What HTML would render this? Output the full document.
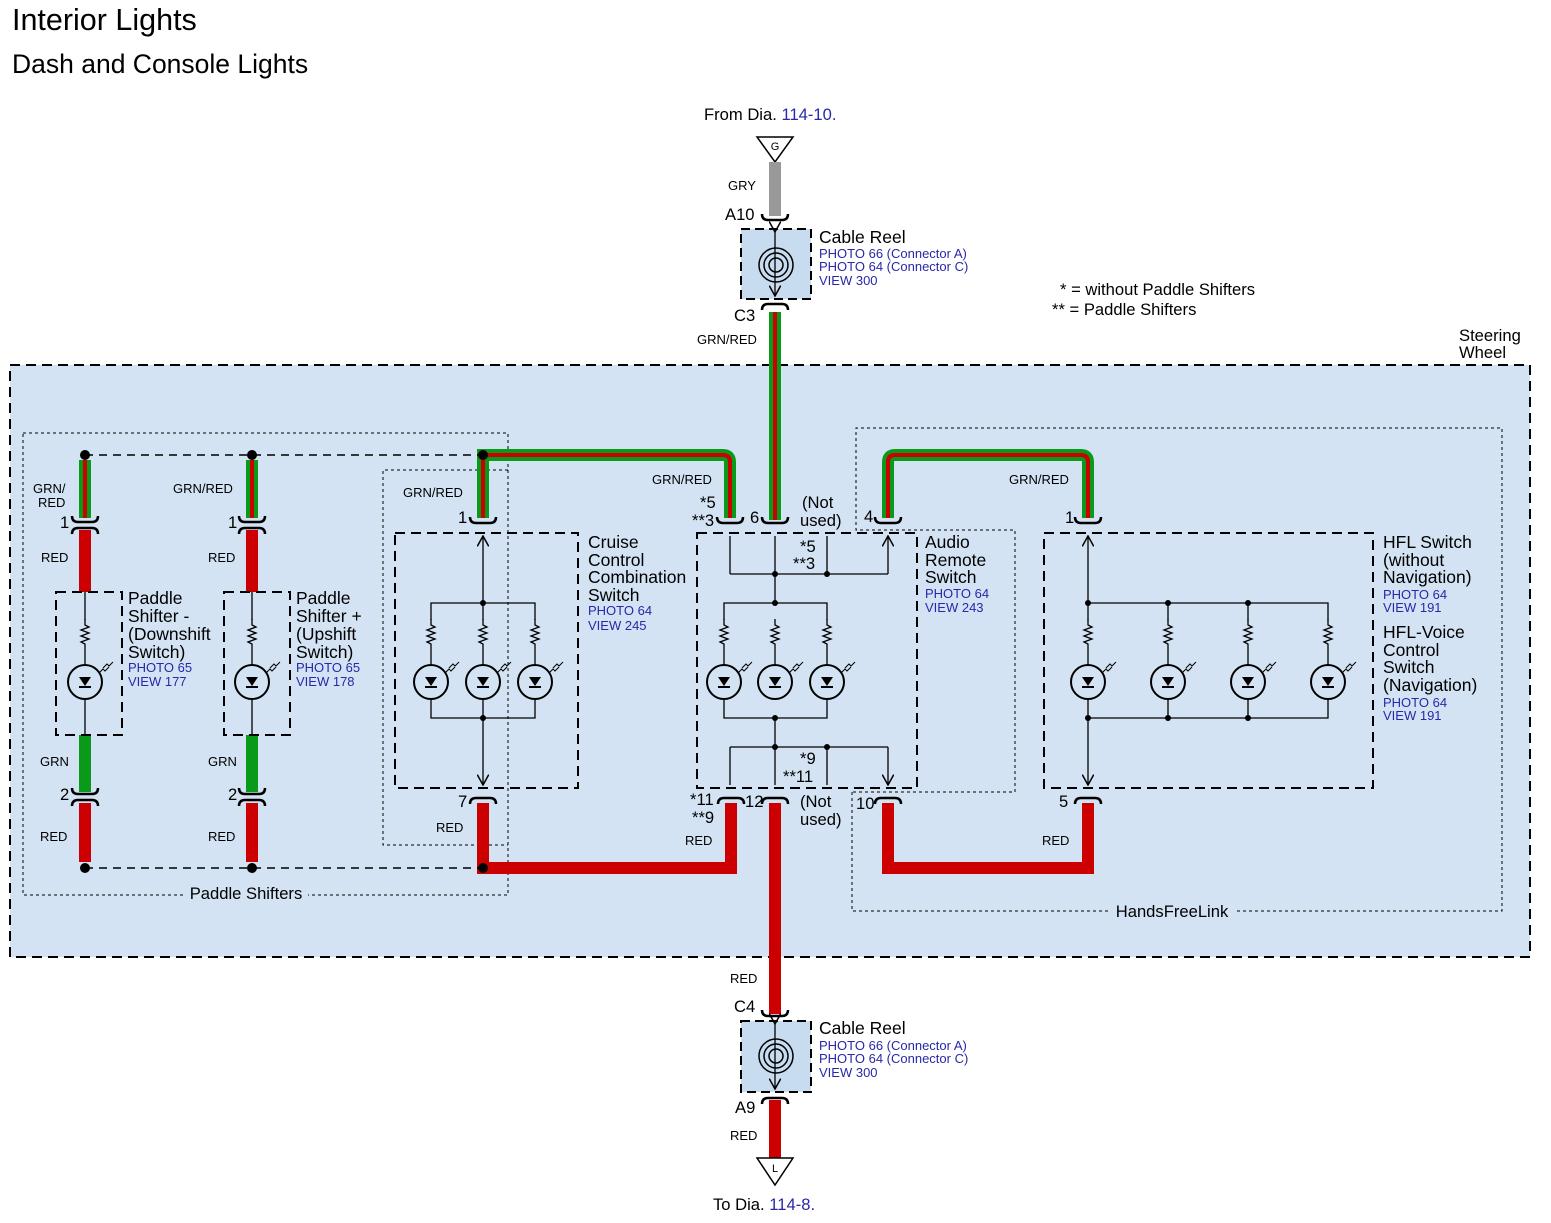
<!DOCTYPE html>
<html><head><meta charset="utf-8"><style>
body{margin:0;background:#fff}
svg{display:block;font-family:"Liberation Sans",Arial,sans-serif}
.s{font-size:13px}.p{font-size:16.6px}.n{font-size:17.5px}.b{font-size:13px;fill:#2828a8}
</style></head><body>
<svg width="1551" height="1223" viewBox="0 0 1551 1223">
<defs>
<g id="res"><path d="M0,-16 v6 l4,2 l-8,3 l8,3 l-8,3 l8,3 l-8,3 l4,2 v6" fill="none" stroke="#000" stroke-width="1.3"/></g>
<g id="led"><circle r="17" fill="none" stroke="#000" stroke-width="2"/><path d="M-6,-5 h12 l-6,9 z" fill="#000"/><path d="M-6,5 h12" stroke="#000" stroke-width="2"/><path d="M18,-14 l4,-4 l2,2 l4,-4 M14,-9 l4,-4 l2,2 l4,-4" stroke="#000" fill="none" stroke-width="1"/></g>
<g id="cu"><path d="M-13,4 q0,-6 6,-6 h14 q6,0 6,6" fill="none" stroke="#000" stroke-width="2.5"/></g>
<g id="cd"><path d="M-13,-4 q0,6 6,6 h14 q6,0 6,-6" fill="none" stroke="#000" stroke-width="2.5"/></g>
<marker id="ar" viewBox="0 0 10 10" refX="9" refY="5" markerWidth="9" markerHeight="9" orient="auto"><path d="M0,0 L9,5 L0,10" fill="none" stroke="#000" stroke-width="1.3"/></marker>
</defs>
<text x="12" y="30" font-size="30.5">Interior Lights</text>
<text x="12" y="73" font-size="26.5">Dash and Console Lights</text>
<text x="704" y="120" class="p">From  Dia. <tspan fill="#2828a8">114-10.</tspan></text>
<path d="M757,137 h36 l-18,25 z" fill="#fff" stroke="#000" stroke-width="1.5"/><text x="775" y="150" font-size="11" text-anchor="middle">G</text>
<path d="M775,162 V216" stroke="#999" stroke-width="12"/>
<text x="728" y="190" class="s">GRY</text>
<text x="725" y="220" class="p">A10</text>
<use href="#cd" x="775" y="218"/>
<rect x="741" y="229" width="70" height="70" fill="#c8dcef" stroke="#000" stroke-width="2" stroke-dasharray="9,5"/>
<path d="M775,232 V296" stroke="#000" stroke-width="1.3" marker-start="url(#ar)" marker-end="url(#ar)"/>
<circle cx="776" cy="265" r="17" fill="none" stroke="#000" stroke-width="1.5"/><circle cx="776" cy="265" r="12" fill="none" stroke="#000" stroke-width="1.5"/><circle cx="776" cy="265" r="7" fill="none" stroke="#000" stroke-width="1.5"/>
<text x="819" y="243" class="n">Cable Reel</text>
<text x="819" y="258" class="b">PHOTO 66 (Connector A)</text><text x="819" y="271" class="b">PHOTO 64 (Connector C)</text><text x="819" y="285" class="b">VIEW 300</text>
<text x="734" y="321" class="p">C3</text>
<use href="#cu" x="775" y="306"/>
<text x="697" y="344" class="s">GRN/RED</text>
<text x="1060" y="295" class="p">* = without Paddle Shifters</text>
<text x="1052" y="315" class="p">** = Paddle Shifters</text>
<text x="1459" y="341" class="p">Steering</text><text x="1459" y="358" class="p">Wheel</text>
<rect x="10" y="365" width="1520" height="592" fill="#d3e3f3" stroke="#000" stroke-width="2" stroke-dasharray="10,6"/>
<g fill="none" stroke="#000" stroke-width="1" stroke-dasharray="3,3">
<rect x="23" y="433" width="485" height="462"/>
<path d="M508,470 H383 V845 H508"/>
<path d="M852,792 V911 H1502 V428 H856 V530 H1015 V792 H852"/>
</g>
<rect x="184" y="884" width="124" height="18" fill="#d3e3f3"/>
<rect x="1110" y="902" width="124" height="18" fill="#d3e3f3"/>
<!-- wires top -->
<g fill="none">
<path d="M775,312 V520" stroke="#0a9a1a" stroke-width="12"/><path d="M775,312 V520" stroke="#c00" stroke-width="4"/>
<path d="M85,460 V518 M252,460 V518 M483,518 V455 H723 q7,0 7,7 V518 M888,518 V462 q0,-7 7,-7 H1081 q7,0 7,7 V518" stroke="#0a9a1a" stroke-width="12"/>
<path d="M85,460 V518 M252,460 V518 M483,518 V455 H723 q7,0 7,7 V518 M888,518 V462 q0,-7 7,-7 H1081 q7,0 7,7 V518" stroke="#c00" stroke-width="4"/>
<path d="M85,530 V592 M252,530 V592 M85,803 V862 M252,803 V862 M483,803 V868 H731 V803 M775,803 V1014 M888,803 V868 H1088 V803 M775,1100 V1158" stroke="#c00" stroke-width="12"/>
<path d="M85,735 V792 M252,735 V792" stroke="#0a9a1a" stroke-width="12"/>
</g>
<path d="M85,455 H483 M85,868 H483" stroke="#000" stroke-width="1.5" stroke-dasharray="8,6"/>
<g fill="#000"><circle cx="85" cy="455" r="5"/><circle cx="252" cy="455" r="5"/><circle cx="483" cy="455" r="5"/><circle cx="85" cy="868" r="5"/><circle cx="252" cy="868" r="5"/><circle cx="483" cy="868" r="5"/></g>
<g>
<use href="#cd" x="85" y="520"/><use href="#cu" x="85" y="530"/><use href="#cd" x="252" y="520"/><use href="#cu" x="252" y="530"/>
<use href="#cd" x="85" y="792"/><use href="#cu" x="85" y="802"/><use href="#cd" x="252" y="792"/><use href="#cu" x="252" y="802"/>
<use href="#cd" x="483" y="521"/><use href="#cd" x="730" y="521"/><use href="#cd" x="775" y="521"/><use href="#cd" x="888" y="521"/><use href="#cd" x="1088" y="521"/>
<use href="#cu" x="483" y="800"/><use href="#cu" x="731" y="800"/><use href="#cu" x="775" y="800"/><use href="#cu" x="888" y="800"/><use href="#cu" x="1088" y="800"/>
</g>
<!-- boxes -->
<g fill="none" stroke="#000" stroke-width="2" stroke-dasharray="10,6">
<rect x="56" y="592" width="66" height="143"/><rect x="224" y="592" width="66" height="143"/>
<rect x="395" y="533" width="183" height="255"/><rect x="697" y="533" width="220" height="255"/><rect x="1044" y="533" width="329" height="255"/>
</g>
<g fill="none" stroke="#000" stroke-width="1.3">
<path d="M85,592 V620 M85,650 V665 M85,699 V735 M252,592 V620 M252,650 V665 M252,699 V735"/>
<path d="M483,603 V536" marker-end="url(#ar)"/><path d="M483,718 V785" marker-end="url(#ar)"/>
<path d="M431,620 V603 H535 V620 M431,699 V718 H535 V699 M483,603 V620 M483,699 V718 M431,650 V665 M483,650 V665 M535,650 V665"/>
<path d="M730,574 V536 M775,574 V536 M827,574 V536 M888,574 V536" marker-end="url(#ar)"/>
<path d="M730,574 H888 M775,574 V603 M724,620 V603 H827 V620 M724,699 V718 H827 V699 M724,650 V665 M775,650 V665 M827,650 V665 M775,718 V747 M730,747 H888"/>
<path d="M730,747 V785 M775,747 V785 M827,747 V785 M888,747 V785" marker-end="url(#ar)"/>
<path d="M1088,603 V536" marker-end="url(#ar)"/><path d="M1088,718 V785" marker-end="url(#ar)"/>
<path d="M1088,620 V603 H1328 V620 M1168,603 V620 M1248,603 V620 M1088,699 V718 H1328 V699 M1168,699 V718 M1248,699 V718 M1088,650 V665 M1168,650 V665 M1248,650 V665 M1328,650 V665"/>
</g>
<g fill="#000"><circle cx="483" cy="603" r="3"/><circle cx="483" cy="718" r="3"/><circle cx="775" cy="574" r="3"/><circle cx="827" cy="574" r="3"/><circle cx="775" cy="603" r="3"/><circle cx="775" cy="718" r="3"/><circle cx="775" cy="747" r="3"/><circle cx="827" cy="747" r="3"/><circle cx="1088" cy="603" r="3"/><circle cx="1168" cy="603" r="3"/><circle cx="1248" cy="603" r="3"/><circle cx="1088" cy="718" r="3"/><circle cx="1168" cy="718" r="3"/><circle cx="1248" cy="718" r="3"/></g>
<g>
<use href="#res" x="85" y="635"/><use href="#led" x="85" y="682"/><use href="#res" x="252" y="635"/><use href="#led" x="252" y="682"/>
<use href="#res" x="431" y="635"/><use href="#led" x="431" y="682"/><use href="#res" x="483" y="635"/><use href="#led" x="483" y="682"/><use href="#res" x="535" y="635"/><use href="#led" x="535" y="682"/>
<use href="#res" x="724" y="635"/><use href="#led" x="724" y="682"/><use href="#res" x="775" y="635"/><use href="#led" x="775" y="682"/><use href="#res" x="827" y="635"/><use href="#led" x="827" y="682"/>
<use href="#res" x="1088" y="635"/><use href="#led" x="1088" y="682"/><use href="#res" x="1168" y="635"/><use href="#led" x="1168" y="682"/><use href="#res" x="1248" y="635"/><use href="#led" x="1248" y="682"/><use href="#res" x="1328" y="635"/><use href="#led" x="1328" y="682"/>
</g>
<!-- labels -->
<g class="s">
<text x="33" y="493">GRN/</text><text x="38" y="507">RED</text><text x="173" y="493">GRN/RED</text>
<text x="41" y="562">RED</text><text x="208" y="562">RED</text><text x="40" y="766">GRN</text><text x="208" y="766">GRN</text>
<text x="40" y="841">RED</text><text x="208" y="841">RED</text>
<text x="403" y="497">GRN/RED</text><text x="436" y="832">RED</text><text x="652" y="484">GRN/RED</text><text x="685" y="845">RED</text>
<text x="1009" y="484">GRN/RED</text><text x="1042" y="845">RED</text>
<text x="730" y="983">RED</text><text x="730" y="1140">RED</text>
</g>
<g class="p">
<text x="60" y="528">1</text><text x="228" y="528">1</text><text x="60" y="800">2</text><text x="228" y="800">2</text>
<text x="458" y="523">1</text><text x="458" y="807">7</text>
<text x="700" y="508">*5</text><text x="692" y="526">**3</text><text x="750" y="523">6</text><text x="802" y="508">(Not</text><text x="800" y="526">used)</text><text x="864" y="522">4</text>
<text x="800" y="552">*5</text><text x="793" y="569">**3</text><text x="800" y="764">*9</text><text x="783" y="782">**11</text>
<text x="690" y="805">*11</text><text x="692" y="823">**9</text><text x="745" y="807">12</text><text x="800" y="807">(Not</text><text x="800" y="825">used)</text><text x="856" y="809">10</text>
<text x="1065" y="523">1</text><text x="1059" y="807">5</text>
<text x="246" y="899" text-anchor="middle">Paddle Shifters</text>
<text x="1172" y="917" text-anchor="middle">HandsFreeLink</text>
</g>
<g class="n">
<text x="128" y="604">Paddle</text><text x="128" y="622">Shifter -</text><text x="128" y="640">(Downshift</text><text x="128" y="658">Switch)</text>
<text x="296" y="604">Paddle</text><text x="296" y="622">Shifter +</text><text x="296" y="640">(Upshift</text><text x="296" y="658">Switch)</text>
<text x="588" y="548">Cruise</text><text x="588" y="566">Control</text><text x="588" y="583">Combination</text><text x="588" y="601">Switch</text>
<text x="925" y="548">Audio</text><text x="925" y="566">Remote</text><text x="925" y="583">Switch</text>
<text x="1383" y="548">HFL Switch</text><text x="1383" y="566">(without</text><text x="1383" y="583">Navigation)</text>
<text x="1383" y="638">HFL-Voice</text><text x="1383" y="656">Control</text><text x="1383" y="673">Switch</text><text x="1383" y="691">(Navigation)</text>
</g>
<g class="b">
<text x="128" y="672">PHOTO 65</text><text x="128" y="686">VIEW 177</text><text x="296" y="672">PHOTO 65</text><text x="296" y="686">VIEW 178</text>
<text x="588" y="615">PHOTO 64</text><text x="588" y="630">VIEW 245</text><text x="925" y="598">PHOTO 64</text><text x="925" y="612">VIEW 243</text>
<text x="1383" y="599">PHOTO 64</text><text x="1383" y="612">VIEW 191</text><text x="1383" y="707">PHOTO 64</text><text x="1383" y="720">VIEW 191</text>
</g>
<!-- bottom reel -->
<text x="734" y="1012" class="p">C4</text>
<use href="#cd" x="775" y="1014"/>
<rect x="741" y="1021" width="70" height="71" fill="#c8dcef" stroke="#000" stroke-width="2" stroke-dasharray="9,5"/>
<path d="M775,1024 V1089" stroke="#000" stroke-width="1.3" marker-start="url(#ar)" marker-end="url(#ar)"/>
<circle cx="776" cy="1056" r="17" fill="none" stroke="#000" stroke-width="1.5"/><circle cx="776" cy="1056" r="12" fill="none" stroke="#000" stroke-width="1.5"/><circle cx="776" cy="1056" r="7" fill="none" stroke="#000" stroke-width="1.5"/>
<text x="819" y="1034" class="n">Cable Reel</text>
<text x="819" y="1050" class="b">PHOTO 66 (Connector A)</text><text x="819" y="1063" class="b">PHOTO 64 (Connector C)</text><text x="819" y="1077" class="b">VIEW 300</text>
<use href="#cu" x="775" y="1100"/>
<text x="735" y="1113" class="p">A9</text>
<path d="M757,1158 h36 l-18,27 z" fill="#fff" stroke="#000" stroke-width="1.5"/><text x="775" y="1172" font-size="11" text-anchor="middle">L</text>
<text x="713" y="1210" class="p">To  Dia. <tspan fill="#2828a8">114-8.</tspan></text>
</svg>
</body></html>
